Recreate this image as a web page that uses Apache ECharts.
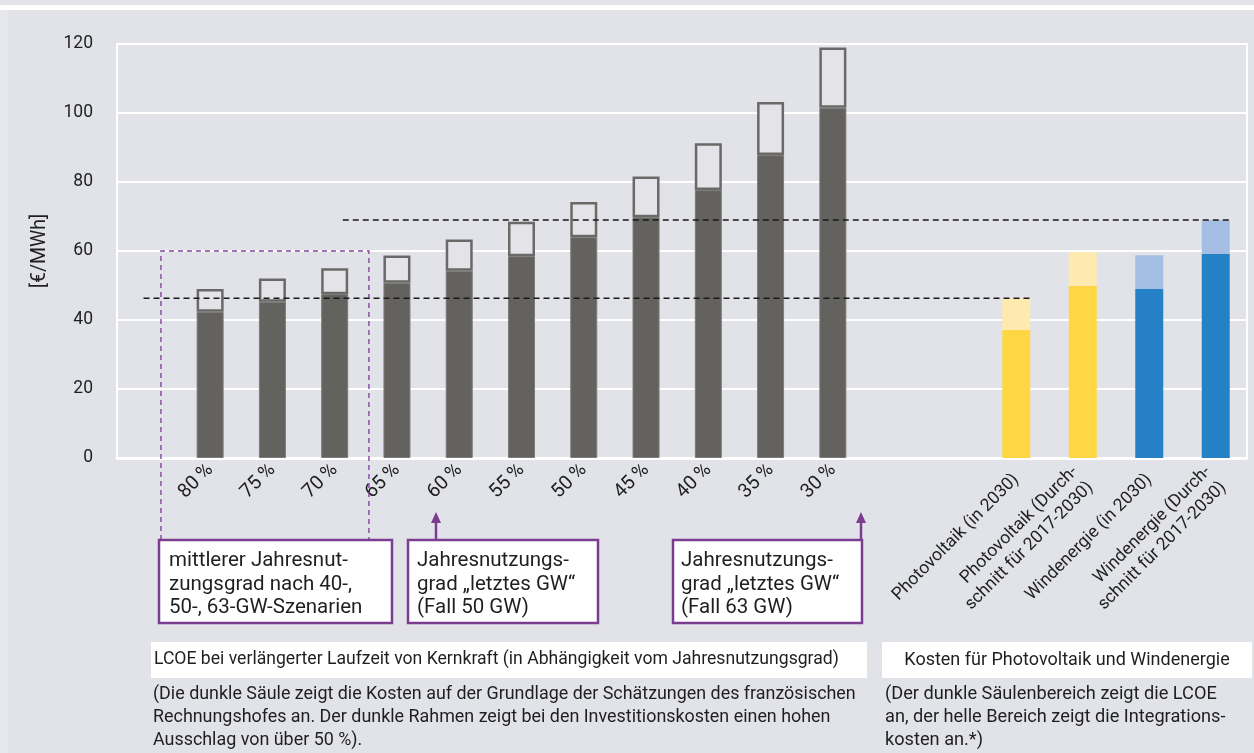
<!DOCTYPE html>
<html><head><meta charset="utf-8">
<script src="https://cdn.jsdelivr.net/npm/echarts@6/dist/echarts.min.js"></script>
<style>html,body{margin:0;padding:0;background:#e2e3e8;}#c{width:1254px;height:753px;}</style>
</head><body><div id="c"></div>
<script>
// ---- data ----
const nuclearCategories = ['80\u2009%','75\u2009%','70\u2009%','65\u2009%','60\u2009%','55\u2009%','50\u2009%','45\u2009%','40\u2009%','35\u2009%','30\u2009%'];
const nuclearBase = [42.4, 45.3, 47.5, 50.8, 54.3, 58.5, 64.0, 69.8, 77.7, 87.8, 101.5];
const nuclearHigh = [49.0, 52.0, 55.0, 58.7, 63.3, 68.5, 74.2, 81.6, 91.2, 103.2, 119.0];
const renewCategories = ['Photovoltaik (in 2030)', 'Photovoltaik (Durch-\nschnitt für 2017-2030)', 'Windenergie (in 2030)', 'Windenergie (Durch-\nschnitt für 2017-2030)'];
const renewLcoe = [37.1, 49.9, 49.0, 59.1];
const renewTotal = [46.3, 59.7, 58.8, 69.0];
const yMin = 0, yMax = 120, yStep = 20;
const boxTopValue = 60;

// ---- styles ----
const FONT = 'Roboto';
const TXT = '#1f1f1f';
const PURPLE = '#7a3d90';
const darkColors = ['#ffd744', '#ffd744', '#2680c5', '#2680c5'];
const lightColors = ['#fee9ae', '#fee9ae', '#a4bfe3', '#a4bfe3'];

const nuclearExtra = nuclearHigh.map((v, i) => +(v - nuclearBase[i]).toFixed(2));
const renewExtra = renewTotal.map((v, i) => +(v - renewLcoe[i]).toFixed(2));

const TOP = 44, BOTTOM = 295;
const hiddenY = (gi) => ({type:'value', gridIndex:gi, min:yMin, max:yMax, interval:yStep, show:false});

const option = {
  animation: false,
  backgroundColor: '#e2e3e8',
  grid: [
    {left:117, right:7, top:TOP, bottom:BOTTOM, show:true, borderColor:'#ffffff', borderWidth:2, backgroundColor:'transparent'},
    {left:179, width:685, top:TOP, bottom:BOTTOM},
    {left:983, width:266, top:TOP, bottom:BOTTOM}
  ],
  xAxis: [
    {type:'value', gridIndex:0, min:0, max:1, show:true, axisLabel:{show:false}, axisTick:{show:false}, splitLine:{show:false}, axisLine:{show:true, lineStyle:{color:'#ffffff', width:3}}},
    {type:'category', gridIndex:1, data:nuclearCategories, axisLine:{show:false}, axisTick:{show:false},
      axisLabel:{rotate:45, margin:9, fontFamily:FONT, fontSize:19.5, color:TXT, interval:0}},
    {type:'category', gridIndex:2, data:renewCategories, axisLine:{show:false}, axisTick:{show:false},
      axisLabel:{rotate:45, margin:19, fontFamily:FONT, fontSize:17.5, lineHeight:22, color:TXT, interval:0}}
  ],
  yAxis: [
    {type:'value', gridIndex:0, min:yMin, max:yMax, interval:yStep,
      name:'[€/MWh]', nameLocation:'middle', nameGap:67, nameTextStyle:{fontFamily:FONT, fontSize:19.5, color:TXT},
      axisLine:{show:false}, axisTick:{show:false},
      axisLabel:{margin:24, fontFamily:FONT, fontSize:17.5, color:TXT},
      splitLine:{show:true, lineStyle:{color:'#ffffff', width:2}}},
    hiddenY(1), hiddenY(2)
  ],
  series: [
    {name:'Kernkraft', type:'bar', xAxisIndex:1, yAxisIndex:1, stack:'n', barWidth:27, data:nuclearBase,
      itemStyle:{color:'#63625f', borderColor:'#7c7b79', borderWidth:1}, z:2},
    {name:'Kernkraft hoch', type:'bar', xAxisIndex:1, yAxisIndex:1, stack:'n', barWidth:27, data:nuclearExtra,
      itemStyle:{color:'#e4e4e8', borderColor:'#6a6967', borderWidth:2.5}, z:2},
    {name:'LCOE', type:'bar', xAxisIndex:2, yAxisIndex:2, stack:'r', barWidth:28, data:renewLcoe,
      itemStyle:{color:(p)=>darkColors[p.dataIndex]}, z:2},
    {name:'Integration', type:'bar', xAxisIndex:2, yAxisIndex:2, stack:'r', barWidth:28, data:renewExtra,
      itemStyle:{color:(p)=>lightColors[p.dataIndex]}, z:2}
  ]
};

const chart = echarts.init(document.getElementById('c'), null, {renderer:'canvas'});
chart.setOption(option);

const cx1 = (i) => {
  const a = chart.convertToPixel({xAxisIndex:1}, nuclearCategories[0]);
  const b = chart.convertToPixel({xAxisIndex:1}, nuclearCategories[1]);
  return a + i * (b - a);
};
const cx2 = (i) => chart.convertToPixel({xAxisIndex:2}, renewCategories[i]);
const py = (v) => chart.convertToPixel({yAxisIndex:0}, v);

const g = [];
// page decoration
g.push({type:'rect', shape:{x:0, y:5, width:1254, height:5}, style:{fill:'#ffffff'}, z:0, silent:true});
g.push({type:'rect', shape:{x:0, y:10, width:8, height:743}, style:{fill:'#e7e8ec'}, z:0, silent:true});

// reference dashed lines
const half = 14;
const yA = py(renewTotal[0]), yB = py(renewTotal[3]);
g.push({type:'line', shape:{x1:cx1(-1.07), y1:yA, x2:cx2(0)+half, y2:yA}, style:{stroke:'#1a1a1a', lineWidth:1.5, lineDash:[6,4]}, z:50});
g.push({type:'line', shape:{x1:cx1(2.13), y1:yB, x2:cx2(3)+half, y2:yB}, style:{stroke:'#1a1a1a', lineWidth:1.5, lineDash:[6,4]}, z:50});

// purple dashed box
const bl = cx1(-0.79), br = cx1(2.55), bt = py(boxTopValue);
g.push({type:'polyline', shape:{points:[[bl,540],[bl,bt],[br,bt],[br,540]]}, style:{stroke:'#8446a0', lineWidth:1.4, lineDash:[5,4], fill:null}, z:40});

// annotation boxes
function box(x, y, w, h, lines, tx) {
  g.push({type:'rect', shape:{x:x, y:y, width:w, height:h}, style:{fill:'#ffffff', stroke:PURPLE, lineWidth:2.5}, z:60});
  g.push({type:'text', x:tx, y:y+9.5, style:{text:lines.join('\n'), font:'20.5px ' + FONT, fill:TXT, lineHeight:23.5, verticalAlign:'top', align:'left'}, z:61});
}
box(159, 540, 233, 83, ['mittlerer Jahresnut-', 'zungsgrad nach 40-,', '50-, 63-GW-Szenarien'], 169);
box(408, 540, 190, 83, ['Jahresnutzungs-', 'grad \u201Eletztes GW\u201C', '(Fall 50 GW)'], 417);
box(673, 540, 189, 83, ['Jahresnutzungs-', 'grad \u201Eletztes GW\u201C', '(Fall 63 GW)'], 681);

// arrows
function arrow(x, yBase) {
  g.push({type:'line', shape:{x1:x, y1:yBase, x2:x, y2:521}, style:{stroke:PURPLE, lineWidth:2.5}, z:62});
  g.push({type:'polygon', shape:{points:[[x-5,523],[x+5,523],[x,512]]}, style:{fill:PURPLE}, z:62});
}
arrow(436, 539);
arrow(861, 539);

// bottom group labels
g.push({type:'rect', shape:{x:151, y:642, width:716, height:36}, style:{fill:'#ffffff'}, z:5});
g.push({type:'text', x:154, y:660, style:{text:'LCOE bei verlängerter Laufzeit von Kernkraft (in Abhängigkeit vom Jahresnutzungsgrad)', font:'17.6px ' + FONT, fill:TXT, verticalAlign:'middle', align:'left'}, z:6});
g.push({type:'rect', shape:{x:882, y:642, width:370, height:36}, style:{fill:'#ffffff'}, z:5});
g.push({type:'text', x:1067, y:660, style:{text:'Kosten für Photovoltaik und Windenergie', font:'18px ' + FONT, fill:TXT, verticalAlign:'middle', align:'center'}, z:6});

// notes
g.push({type:'text', x:153, y:683, style:{text:'(Die dunkle Säule zeigt die Kosten auf der Grundlage der Schätzungen des französischen\nRechnungshofes an. Der dunkle Rahmen zeigt bei den Investitionskosten einen hohen\nAusschlag von über 50 %).', font:'17.9px ' + FONT, fill:TXT, lineHeight:23, verticalAlign:'top', align:'left'}, z:6});
g.push({type:'text', x:885, y:683, style:{text:'(Der dunkle Säulenbereich zeigt die LCOE\nan, der helle Bereich zeigt die Integrations-\nkosten an.*)', font:'18.2px ' + FONT, fill:TXT, lineHeight:23, verticalAlign:'top', align:'left'}, z:6});

chart.setOption({graphic: g});
</script>
</body></html>
